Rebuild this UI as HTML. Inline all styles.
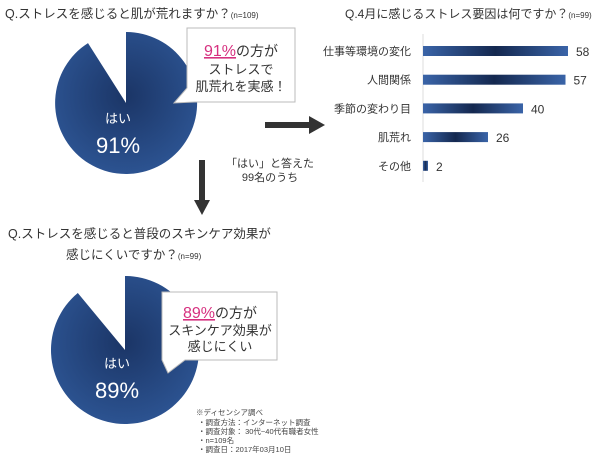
<!DOCTYPE html>
<html><head><meta charset="utf-8"><style>
body{margin:0;background:#fff;}
svg{display:block;font-family:"Liberation Sans","Noto Sans CJK JP",sans-serif;}
</style></head><body>
<svg id="c" width="600" height="464" viewBox="0 0 600 464">
<defs>
<radialGradient id="pg" cx="50%" cy="45%" r="55%"><stop offset="0" stop-color="#1b3566"/><stop offset="1" stop-color="#2c5391"/></radialGradient>
<linearGradient id="bg" x1="0" x2="1"><stop offset="0" stop-color="#3a64a8"/><stop offset="0.5" stop-color="#14284f"/><stop offset="1" stop-color="#3a64a8"/></linearGradient>
</defs>
<text x="5" y="18" font-size="12.5" fill="#333">Q.ストレスを感じると肌が荒れますか？<tspan font-size="8">(n=109)</tspan></text>
<g id="pie1"></g>
<g>
<path d="M187,28 H295 V102 H195 L174,103 L187,88 Z" fill="#fff" stroke="#bbb" stroke-width="1"/>
<text x="241" y="56" font-size="14" text-anchor="middle" fill="#333"><tspan fill="#d6307f" font-size="16" text-decoration="underline">91%</tspan>の方が</text>
<text x="241" y="74" font-size="13" text-anchor="middle" fill="#333">ストレスで</text>
<text x="241" y="91" font-size="13" text-anchor="middle" fill="#333">肌荒れを実感！</text>
</g>
<g><rect x="265" y="122" width="46" height="6" fill="#333"/><polygon points="309,116 325,125 309,134" fill="#333"/></g>
<g><rect x="199" y="160" width="6" height="42" fill="#333"/><polygon points="194,200 210,200 202,215" fill="#333"/></g>
<text x="270" y="167" font-size="11" text-anchor="middle" fill="#333">「はい」と答えた</text>
<text x="270" y="181" font-size="11" text-anchor="middle" fill="#333">99名のうち</text>
<text x="345" y="18" font-size="12" fill="#333">Q.4月に感じるストレス要因は何ですか？<tspan font-size="8">(n=99)</tspan></text>
<line x1="423" y1="34" x2="423" y2="182" stroke="#ddd"/>
<g id="bars"></g>
<text x="8" y="238" font-size="12.5" fill="#333">Q.ストレスを感じると普段のスキンケア効果が</text>
<text x="66" y="259" font-size="12.5" fill="#333">感じにくいですか？<tspan font-size="8">(n=99)</tspan></text>
<g id="pie2"></g>
<g>
<path d="M162,292 H277 V360 H185 L168,373 L162,360 Z" fill="#fff" stroke="#bbb" stroke-width="1"/>
<text x="220" y="318" font-size="14" text-anchor="middle" fill="#333"><tspan fill="#d6307f" font-size="16" text-decoration="underline">89%</tspan>の方が</text>
<text x="220" y="335" font-size="13" text-anchor="middle" fill="#333">スキンケア効果が</text>
<text x="220" y="351" font-size="13" text-anchor="middle" fill="#333">感じにくい</text>
</g>
<g font-size="7.5" fill="#444">
<text x="196" y="415">※ディセンシア調べ</text>
<text x="198" y="425">・調査方法：インターネット調査</text>
<text x="198" y="434">・調査対象： 30代~40代有職者女性</text>
<text x="198" y="443">・n=109名</text>
<text x="198" y="452">・調査日：2017年03月10日</text>
</g>
</svg>
<script>
const pie1Values=[91,9];
const pie2Values=[89,11];
const barCategories=["仕事等環境の変化","人間関係","季節の変わり目","肌荒れ","その他"];
const barValues=[58,57,40,26,2];
const NS="http://www.w3.org/2000/svg";
function mk(t,a){const e=document.createElementNS(NS,t);for(const k in a)e.setAttribute(k,a[k]);return e;}
function drawPie(id,vals,cx,cy,r,ly){
  const g=document.getElementById(id);
  const frac=vals[0]/(vals[0]+vals[1]);
  const a=frac*2*Math.PI;
  const x=cx+r*Math.sin(a),y=cy-r*Math.cos(a);
  const p=mk('path',{d:`M${cx},${cy} L${cx},${cy-r} A${r},${r} 0 1 1 ${x.toFixed(1)},${y.toFixed(1)} Z`,fill:'url(#pg)'});
  
  
  g.appendChild(p);
  const t1=mk('text',{x:cx-8,y:ly,'font-size':13,fill:'#fff','text-anchor':'middle'});t1.textContent='はい';
  
  
  g.appendChild(t1);
  const t2=mk('text',{x:cx-8,y:ly+30,'font-size':22,fill:'#fff','text-anchor':'middle'});t2.textContent=vals[0]+'%';
  
  
  g.appendChild(t2);
}
drawPie('pie1',pie1Values,126,103,71,123);
drawPie('pie2',pie2Values,125,350,74,368);
const bg=document.getElementById('bars');
const x0=423,sc=2.5,y0=51,step=28.7,bh=10;
barCategories.forEach((c,i)=>{
  const yc=y0+i*step,w=barValues[i]*sc;
  const r=mk('rect',{x:x0,y:yc-bh/2,width:w,height:bh,fill:'url(#bg)'});
  
  
  bg.appendChild(r);
  const l=mk('text',{x:411,y:yc+4,'font-size':11,fill:'#333','text-anchor':'end'});l.textContent=c;
  
  
  bg.appendChild(l);
  const v=mk('text',{x:x0+w+8,y:yc+5,'font-size':12,fill:'#333'});v.textContent=barValues[i];
  
  
  bg.appendChild(v);
});
</script>
</body></html>
